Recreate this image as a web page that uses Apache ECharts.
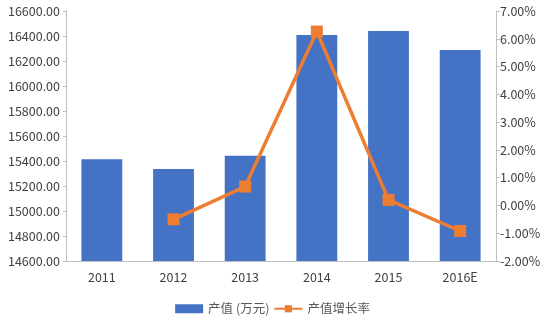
<!DOCTYPE html>
<html><head><meta charset="utf-8">
<script src="https://cdn.jsdelivr.net/npm/echarts@6/dist/echarts.min.js"></script>
<style>html,body{margin:0;padding:0;background:#fff}#c{width:545px;height:326px}</style>
</head><body><div id="c"></div>
<script>
var categories = ['2011','2012','2013','2014','2015','2016E'];
var outputValues = [15414, 15337, 15442, 16408, 16440, 16288];
var growthRates = [null, -0.50, 0.68, 6.26, 0.20, -0.92];
var seriesNames = ['产值 (万元)', '产值增长率'];

var chart = echarts.init(document.getElementById('c'));
var font = '"Noto Sans CJK SC", "Open Sans", sans-serif';
chart.setOption({
  animation: false,
  textStyle: {fontFamily: font},
  grid: {left: 66, right: 49, top: 11, bottom: 65},
  legend: {
    bottom: 6, left: 'center', itemGap: 4, itemWidth: 28, itemHeight: 9,
    textStyle: {fontSize: 12.5, color: '#595959', fontFamily: font},
    data: [{name: seriesNames[0], icon: 'rect'}, {name: seriesNames[1]}]
  },
  xAxis: {
    type: 'category', data: categories,
    axisLine: {onZero: false, lineStyle: {color: '#bfbfbf'}},
    axisTick: {show: false},
    axisLabel: {color: '#404040', fontSize: 12.5, margin: 10}
  },
  yAxis: [{
    type: 'value', min: 14600, max: 16600, interval: 200,
    axisLine: {show: true, lineStyle: {color: '#bfbfbf'}},
    axisTick: {show: true, length: 3, lineStyle: {color: '#bfbfbf'}},
    splitLine: {show: false},
    axisLabel: {color: '#404040', fontSize: 12.5, margin: 6, formatter: function(v){return v.toFixed(2);}}
  }, {
    type: 'value', min: -2, max: 7, interval: 1,
    axisLine: {show: true, lineStyle: {color: '#bfbfbf'}},
    axisTick: {show: true, length: 4, lineStyle: {color: '#bfbfbf'}},
    splitLine: {show: false},
    axisLabel: {color: '#404040', fontSize: 12.5, margin: 4, formatter: function(v){return v.toFixed(2) + '%';}}
  }],
  series: [{
    name: seriesNames[0], type: 'bar', data: outputValues,
    barWidth: '57%', itemStyle: {color: '#4472C4'}
  }, {
    name: seriesNames[1], type: 'line', yAxisIndex: 1, data: growthRates,
    connectNulls: false,
    symbol: 'rect', symbolSize: 12,
    lineStyle: {color: '#ED7D31', width: 3.5},
    itemStyle: {color: '#ED7D31'}
  }]
});
</script></body></html>
